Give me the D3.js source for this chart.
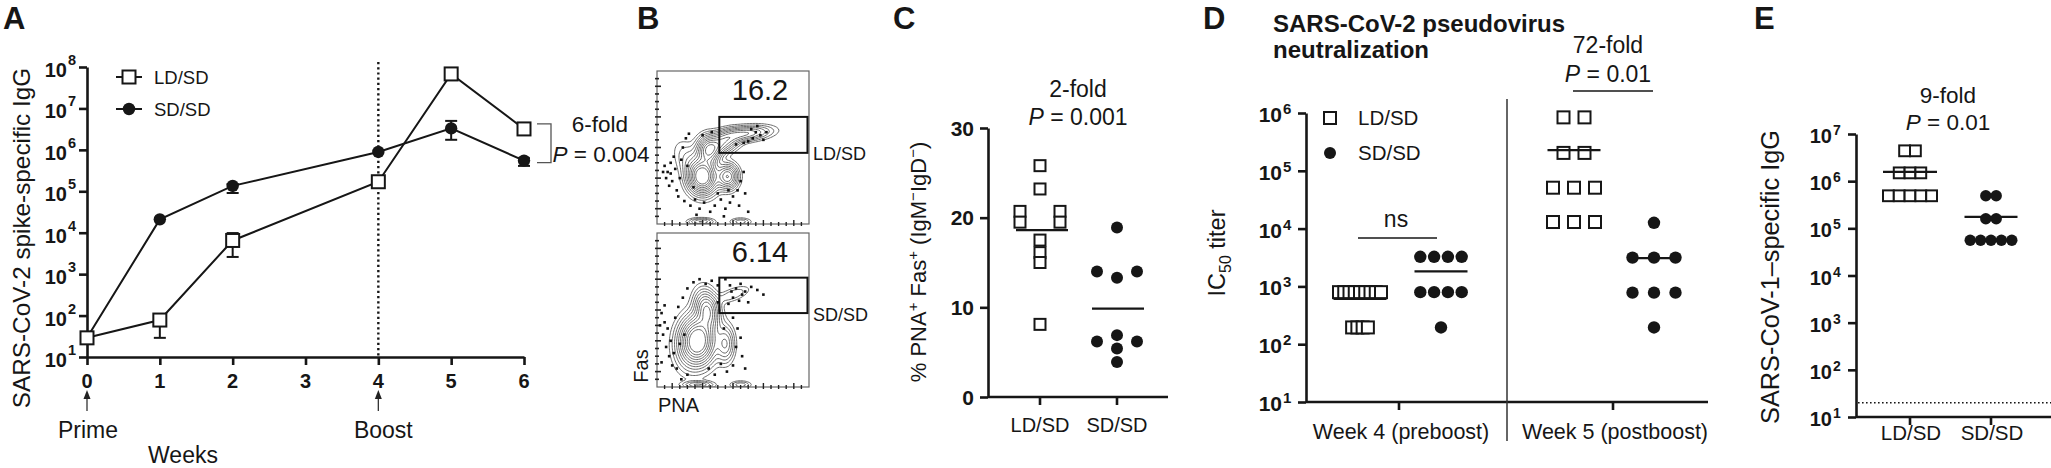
<!DOCTYPE html>
<html>
<head>
<meta charset="utf-8">
<script src="https://cdn.jsdelivr.net/npm/d3@7"></script>
<style>
html,body{margin:0;padding:0;background:#fff;}
svg{display:block;}
text{font-family:"Liberation Sans",Arial,Helvetica,sans-serif;fill:#161616;}
</style>
</head>
<body>
<svg id="fig" width="2051" height="468"></svg>
<script>
// ================= DATA =================
// Panel A : SARS-CoV-2 spike-specific IgG over weeks
const aWeeks  = [0, 1, 2, 4, 5, 6];
const aLD     = [29, 78, 6500, 170000, 6.8e7, 3.2e6];
const aLDlo   = [null, 29, 2600, null, null, null];
const aLDhi   = [null, 105, 9800, null, null, null];
const aSD     = [29, 21000, 135000, 890000, 3.3e6, 5.5e5];
const aSDlo   = [null, null, 91000, null, 1.75e6, 4.1e5];
const aSDhi   = [null, null, 150000, null, 5.0e6, 6.3e5];
const aXTicks = [0, 1, 2, 3, 4, 5, 6];
const aYExps  = [1, 2, 3, 4, 5, 6, 7, 8];
const aSeries = ["LD/SD", "SD/SD"];
const aBoost  = 4;

// Panel B : flow plots (normalised 0..1 plot coordinates)
const bValues = ["16.2", "6.14"];
const bRows   = ["LD/SD", "SD/SD"];
const bGates  = [[0.41, 0.30, 0.99, 0.535], [0.41, 0.29, 0.99, 0.52]];
// clusters: [cx, cy, sx, sy, angleDeg, weight]
const bClustersTop = [
  [0.30, 0.69, 0.055, 0.065, 0, 1.0],
  [0.34, 0.52, 0.045, 0.055, 0, 0.6],
  [0.465, 0.69, 0.04, 0.048, 0, 0.55],
  [0.43, 0.47, 0.07, 0.04, -22, 0.4],
  [0.58, 0.41, 0.10, 0.028, -6, 0.36],
  [0.22, 0.60, 0.05, 0.09, -30, 0.12],
  [0.29, 0.985, 0.05, 0.014, 0, 0.22],
  [0.55, 0.985, 0.04, 0.014, 0, 0.14]
];
const bClustersBot = [
  [0.27, 0.70, 0.065, 0.09, 0, 1.0],
  [0.33, 0.50, 0.045, 0.075, -12, 0.55],
  [0.45, 0.72, 0.035, 0.07, 0, 0.28],
  [0.50, 0.40, 0.07, 0.025, -20, 0.10],
  [0.20, 0.75, 0.06, 0.1, 0, 0.12],
  [0.27, 0.985, 0.06, 0.014, 0, 0.22],
  [0.55, 0.985, 0.04, 0.014, 0, 0.14]
];
const bDotsTop = [[.05,.62],[.07,.66],[.09,.60],[.06,.70],[.10,.72],[.12,.64],[.08,.75],[.13,.78],[.15,.70],[.11,.56],
  [.17,.50],[.19,.44],[.21,.41],[.16,.58],[.14,.82],[.18,.85],[.22,.88],[.25,.84],[.28,.90],[.31,.86],[.35,.92],[.38,.88],
  [.42,.84],[.45,.90],[.48,.86],[.50,.82],[.53,.78],[.55,.72],[.57,.66],[.54,.88],[.58,.80],[.60,.92],[.44,.95],[.26,.94],
  [.62,.38],[.65,.40],[.68,.42],[.70,.45],[.63,.44],[.60,.46],[.72,.40],[.66,.36],[.20,.62],[.24,.76],[.40,.80],[.47,.78],
  [.36,.40],[.30,.42],[.04,.66],[.09,.67],[.52,.48],[.57,.47]];
const bDotsBot = [[.03,.52],[.05,.58],[.04,.66],[.07,.62],[.06,.74],[.09,.70],[.08,.80],[.11,.78],[.10,.86],[.13,.88],
  [.03,.84],[.12,.55],[.14,.48],[.17,.42],[.20,.36],[.24,.32],[.28,.30],[.32,.33],[.36,.31],[.40,.34],[.45,.30],[.48,.34],
  [.52,.36],[.55,.33],[.58,.38],[.62,.35],[.66,.37],[.50,.42],[.54,.44],[.47,.46],[.60,.45],[.70,.40],[.50,.55],[.53,.62],
  [.55,.68],[.52,.74],[.56,.80],[.50,.86],[.46,.90],[.42,.85],[.38,.92],[.34,.88],[.20,.92],[.16,.95],[.58,.88],[.44,.62],
  [.40,.45],[.18,.66],[.15,.72],[.02,.60],[.05,.47],[.49,.38],[.56,.40]];
const bLevels = [0.03, 0.06, 0.1, 0.15, 0.21, 0.28, 0.36, 0.45, 0.55, 0.66, 0.78];
const bTickFracs = [0.05, 0.1, 0.15, 0.2, 0.25, 0.3, 0.35, 0.4, 0.45, 0.5, 0.55, 0.6, 0.65, 0.7, 0.75, 0.8, 0.85, 0.9, 0.95];

// Panel C : % PNA+ Fas+
const cGroups = ["LD/SD", "SD/SD"];
const cLD = [25.8, 23.2, 20.7, 20.7, 19.5, 19.5, 17.5, 16.1, 15.0, 8.1];
const cSD = [18.9, 14.0, 14.0, 13.3, 6.9, 6.2, 6.2, 5.4, 3.9];
const cYTicks = [0, 10, 20, 30];

// Panel D : IC50 titers
const dWeeks = ["Week 4 (preboost)", "Week 5 (postboost)"];
const dW4LD = [795, 795, 795, 795, 795, 795, 795, 795, 795, 195, 195, 195, 195];
const dW4SD = [3250, 3250, 3250, 3250, 795, 795, 795, 795, 195];
const dW5LD = [8.4e5, 8.4e5, 2.04e5, 2.04e5, 5.1e4, 5.1e4, 5.1e4, 1.3e4, 1.3e4, 1.3e4];
const dW5SD = [12600, 3150, 3150, 3150, 780, 780, 780, 195];
const dYExps = [1, 2, 3, 4, 5, 6];

// Panel E : SARS-CoV-1 specific IgG
const eGroups = ["LD/SD", "SD/SD"];
const eLD = [4.4e6, 4.4e6, 1.5e6, 1.5e6, 1.5e6, 4.9e5, 4.9e5, 4.9e5, 4.9e5, 4.9e5];
const eSD = [4.9e5, 4.9e5, 1.6e5, 1.6e5, 5.6e4, 5.6e4, 5.6e4, 5.6e4, 5.6e4];
const eLimit = 20;
const eYExps = [1, 2, 3, 4, 5, 6, 7];

// ================= HELPERS =================
const svg = d3.select("#fig");
const INK = "#161616";

function styleAxis(sel, w) {
  sel.select(".domain").attr("stroke", INK).attr("stroke-width", w);
  sel.selectAll(".tick line").attr("stroke", INK).attr("stroke-width", w);
  sel.selectAll(".tick text").remove();
}
function txt(g, x, y, s, size, opts = {}) {
  const t = g.append("text").attr("x", x).attr("y", y).attr("font-size", size).text(s);
  if (opts.anchor) t.attr("text-anchor", opts.anchor);
  if (opts.bold) t.attr("font-weight", "bold");
  return t;
}
function pTxt(g, x, y, rest, size) {
  const t = g.append("text").attr("x", x).attr("y", y).attr("font-size", size).attr("text-anchor", "middle");
  t.append("tspan").attr("font-style", "italic").text("P");
  t.append("tspan").text(rest);
  return t;
}
function powLabels(g, scale, exps, xRight, fs, es, dy, edy) {
  exps.forEach(e => {
    const y = scale(Math.pow(10, e));
    txt(g, xRight, y + dy, "10", fs, {anchor: "end", bold: true});
    txt(g, xRight + 1, y + edy, String(e), es, {bold: true});
  });
}
function square(g, cx, cy, s, sw) {
  g.append("rect").attr("x", cx - s / 2).attr("y", cy - s / 2).attr("width", s).attr("height", s)
    .attr("fill", "#fff").attr("stroke", INK).attr("stroke-width", sw);
}
function dot(g, cx, cy, r) {
  g.append("circle").attr("cx", cx).attr("cy", cy).attr("r", r).attr("fill", INK);
}
// rows of equal values are spread symmetrically
function rowOffsets(values, step) {
  const counts = new Map();
  values.forEach(v => counts.set(v, (counts.get(v) || 0) + 1));
  const seen = new Map();
  return values.map(v => {
    const n = counts.get(v), i = seen.get(v) || 0;
    seen.set(v, i + 1);
    return (i - (n - 1) / 2) * step;
  });
}
function rotLabel(g, cx, cy, size) {
  return g.append("text").attr("transform", `translate(${cx},${cy}) rotate(-90)`)
    .attr("text-anchor", "middle").attr("font-size", size);
}
function meanLine(g, cx, y, half) {
  g.append("line").attr("x1", cx - half).attr("x2", cx + half).attr("y1", y).attr("y2", y)
    .attr("stroke", INK).attr("stroke-width", 2.2);
}

// ================= PANEL A =================
(function () {
  const g = svg.append("g");
  const x = d3.scaleLinear().domain([0, 6]).range([87, 524]);
  const y = d3.scaleLog().domain([10, 1e8]).range([357, 67]);
  txt(g, 3, 29, "A", 31, {bold: true});
  g.append("g").attr("transform", "translate(87,0)")
    .call(d3.axisLeft(y).tickValues(aYExps.map(e => Math.pow(10, e))).tickSize(8).tickSizeOuter(0).tickFormat(""))
    .call(styleAxis, 2.6);
  g.append("g").attr("transform", "translate(0,357)")
    .call(d3.axisBottom(x).tickValues(aXTicks).tickSize(8).tickSizeOuter(0).tickFormat(""))
    .call(styleAxis, 2.6);
  powLabels(g, y, aYExps, 67, 20, 14.5, 10, -2);
  aXTicks.forEach(t => txt(g, x(t), 388, String(t), 20, {anchor: "middle", bold: true}));
  rotLabel(g, 30, 238, 24.3).text("SARS-CoV-2 spike-specific IgG");

  // boost dotted line
  g.append("line").attr("x1", x(aBoost)).attr("x2", x(aBoost)).attr("y1", 62).attr("y2", 357)
    .attr("stroke", INK).attr("stroke-width", 2.4).attr("stroke-dasharray", "2.2,3");

  // arrows + labels
  [[0, "Prime", 1], [aBoost, "Boost", 5]].forEach(([w, lab, dx]) => {
    g.append("line").attr("x1", x(w)).attr("x2", x(w)).attr("y1", 411).attr("y2", 397)
      .attr("stroke", "#333").attr("stroke-width", 1.3);
    g.append("path").attr("d", `M${x(w) - 3.5},399 L${x(w)},390 L${x(w) + 3.5},399 Z`).attr("fill", "#222");
    txt(g, x(w) + dx, 438, lab, 23, {anchor: "middle"});
  });
  txt(g, 183, 463, "Weeks", 23, {anchor: "middle"});

  const line = d3.line().x((d, i) => x(aWeeks[i])).y(d => y(d));
  g.append("path").attr("d", line(aSD)).attr("fill", "none").attr("stroke", INK).attr("stroke-width", 2);
  g.append("path").attr("d", line(aLD)).attr("fill", "none").attr("stroke", INK).attr("stroke-width", 2);

  function errs(lo, hi) {
    aWeeks.forEach((w, i) => {
      if (lo[i] == null) return;
      const cx = x(w);
      g.append("line").attr("x1", cx).attr("x2", cx).attr("y1", y(lo[i])).attr("y2", y(hi[i])).attr("stroke", INK).attr("stroke-width", 2);
      [lo[i], hi[i]].forEach(v => g.append("line").attr("x1", cx - 6).attr("x2", cx + 6).attr("y1", y(v)).attr("y2", y(v)).attr("stroke", INK).attr("stroke-width", 2));
    });
  }
  errs(aSDlo, aSDhi);
  errs(aLDlo, aLDhi);
  aSD.forEach((v, i) => dot(g, x(aWeeks[i]), y(v), 6.2));
  aLD.forEach((v, i) => square(g, x(aWeeks[i]), y(v), 13, 2));

  // legend
  [[aSeries[0], 77, "sq"], [aSeries[1], 109, "dot"]].forEach(([lab, ly, kind]) => {
    g.append("line").attr("x1", 116).attr("x2", 142).attr("y1", ly).attr("y2", ly).attr("stroke", INK).attr("stroke-width", 2);
    if (kind === "sq") square(g, 129, ly, 13, 2); else dot(g, 129, ly, 6.2);
    txt(g, 154, ly + 7, lab, 18.5);
  });

  // fold bracket at week 6
  const y1 = y(aLD[5]) - 5, y2 = y(aSD[5]) + 2;
  g.append("path").attr("d", `M537,${y1} H551 V${y2} H537`).attr("fill", "none").attr("stroke", "#555").attr("stroke-width", 1.3);
  txt(g, 600, 132, "6-fold", 22.5, {anchor: "middle"});
  pTxt(g, 601, 162, " = 0.004", 22.5);
})();

// ================= PANEL B =================
(function () {
  const g = svg.append("g");
  txt(g, 637, 29, "B", 31, {bold: true});
  const boxes = [{x: 657, y: 71, w: 152, h: 153}, {x: 657, y: 233, w: 152, h: 154}];
  const clusters = [bClustersTop, bClustersBot];
  const dots = [bDotsTop, bDotsBot];
  boxes.forEach((b, k) => {
    const p = g.append("g").attr("transform", `translate(${b.x},${b.y})`);
    const cid = "clipB" + k;
    svg.append("defs").append("clipPath").attr("id", cid).append("rect").attr("width", b.w).attr("height", b.h);
    const cell = 1.5, nx = Math.round(b.w / cell), ny = Math.round(b.h / cell);
    const vals = new Float64Array(nx * ny);
    for (let j = 0; j < ny; j++) for (let i = 0; i < nx; i++) {
      const fx = (i + 0.5) / nx, fy = (j + 0.5) / ny;
      let s = 0;
      for (const [cx, cy, sx, sy, ang, w] of clusters[k]) {
        const a = ang * Math.PI / 180, dx = fx - cx, dy = fy - cy;
        const u = dx * Math.cos(a) + dy * Math.sin(a), v = -dx * Math.sin(a) + dy * Math.cos(a);
        s += w * Math.exp(-0.5 * (u * u / (sx * sx) + v * v / (sy * sy)));
      }
      vals[j * nx + i] = s;
    }
    const cs = d3.contours().size([nx, ny]).thresholds(bLevels)(vals);
    const proj = d3.geoTransform({point: function (px, py) { this.stream.point(px * b.w / nx, py * b.h / ny); }});
    const path = d3.geoPath(proj);
    const inner = p.append("g").attr("clip-path", `url(#${cid})`);
    inner.selectAll("path").data(cs).join("path").attr("d", path)
      .attr("fill", "none").attr("stroke", "#5a5a5a").attr("stroke-width", 0.9);
    inner.selectAll("rect.d").data(dots[k]).join("rect").attr("class", "d")
      .attr("x", d => d[0] * b.w - 1.3).attr("y", d => d[1] * b.h - 1.3).attr("width", 2.6).attr("height", 2.6).attr("fill", "#111");
    // frame
    p.append("rect").attr("width", b.w).attr("height", b.h).attr("fill", "none").attr("stroke", "#666").attr("stroke-width", 1.2);
    // axis ticks
    bTickFracs.forEach((f, i) => {
      const len = i % 4 === 1 ? 5 : 3;
      p.append("line").attr("x1", -2).attr("x2", len - 1).attr("y1", f * b.h).attr("y2", f * b.h).attr("stroke", "#222").attr("stroke-width", 1.6);
      p.append("line").attr("y1", b.h + 2).attr("y2", b.h - len + 1).attr("x1", f * b.w).attr("x2", f * b.w).attr("stroke", "#222").attr("stroke-width", 1.4);
    });
    // gate
    const gt = bGates[k];
    p.append("rect").attr("x", gt[0] * b.w).attr("y", gt[1] * b.h).attr("width", (gt[2] - gt[0]) * b.w).attr("height", (gt[3] - gt[1]) * b.h)
      .attr("fill", "none").attr("stroke", "#111").attr("stroke-width", 2);
    txt(p, 103, 29, bValues[k], 29, {anchor: "middle"});
    txt(p, 156, (gt[3]) * b.h + 7.5, bRows[k], 18);
  });
  rotLabel(g, 648, 366, 20).text("Fas");
  txt(g, 658, 412, "PNA", 20);
})();

// ================= PANEL C =================
(function () {
  const g = svg.append("g");
  txt(g, 893, 29, "C", 31, {bold: true});
  const x = d3.scalePoint().domain(cGroups).range([1040, 1117]);
  const y = d3.scaleLinear().domain([0, 30]).range([397, 128]);
  g.append("g").attr("transform", "translate(988,0)")
    .call(d3.axisLeft(y).tickValues(cYTicks).tickSize(8).tickSizeOuter(0).tickFormat(""))
    .call(styleAxis, 2.6);
  g.append("line").attr("x1", 988).attr("x2", 1168).attr("y1", 397).attr("y2", 397).attr("stroke", INK).attr("stroke-width", 2.6);
  cGroups.forEach(c => g.append("line").attr("x1", x(c)).attr("x2", x(c)).attr("y1", 397).attr("y2", 405).attr("stroke", INK).attr("stroke-width", 2.6));
  cYTicks.forEach(t => txt(g, 974, y(t) + 7.5, String(t), 21, {anchor: "end", bold: true}));
  cGroups.forEach(c => txt(g, x(c), 432, c, 20, {anchor: "middle"}));
  const lab = rotLabel(g, 926, 262, 22);
  lab.append("tspan").text("% PNA");
  lab.append("tspan").attr("dy", -8).attr("font-size", 15).text("+");
  lab.append("tspan").attr("dy", 8).text(" Fas");
  lab.append("tspan").attr("dy", -8).attr("font-size", 15).text("+");
  lab.append("tspan").attr("dy", 8).text(" (IgM");
  lab.append("tspan").attr("dy", -8).attr("font-size", 15).text("\u2212");
  lab.append("tspan").attr("dy", 8).text("IgD");
  lab.append("tspan").attr("dy", -8).attr("font-size", 15).text("\u2212");
  lab.append("tspan").attr("dy", 8).text(")");

  const offL = rowOffsets(cLD, 40), offS = rowOffsets(cSD, 40);
  cLD.forEach((v, i) => square(g, x(cGroups[0]) + offL[i], y(v), 11, 2));
  cSD.forEach((v, i) => dot(g, x(cGroups[1]) + offS[i], y(v), 6));
  meanLine(g, x(cGroups[0]) + 2, y(d3.mean(cLD)), 26);
  meanLine(g, x(cGroups[1]) + 1, y(d3.mean(cSD)), 26);
  txt(g, 1078, 97, "2-fold", 23, {anchor: "middle"});
  pTxt(g, 1078, 125, " = 0.001", 23);
})();

// ================= PANEL D =================
(function () {
  const g = svg.append("g");
  txt(g, 1203, 29, "D", 31, {bold: true});
  txt(g, 1273, 32, "SARS-CoV-2 pseudovirus", 24, {bold: true});
  txt(g, 1273, 58, "neutralization", 24, {bold: true});
  const x = d3.scalePoint().domain(dWeeks).range([1399, 1613]);
  const y = d3.scaleLog().domain([10, 1e6]).range([402, 113]);
  g.append("g").attr("transform", "translate(1306,0)")
    .call(d3.axisLeft(y).tickValues(dYExps.map(e => Math.pow(10, e))).tickSize(8).tickSizeOuter(0).tickFormat(""))
    .call(styleAxis, 2.6);
  g.append("line").attr("x1", 1306).attr("x2", 1708).attr("y1", 402).attr("y2", 402).attr("stroke", INK).attr("stroke-width", 2.6);
  dWeeks.forEach(w => {
    g.append("line").attr("x1", x(w)).attr("x2", x(w)).attr("y1", 402).attr("y2", 410).attr("stroke", INK).attr("stroke-width", 2.6);
    txt(g, x(w) + 2, 439, w, 21.5, {anchor: "middle"});
  });
  g.append("line").attr("x1", 1507).attr("x2", 1507).attr("y1", 99).attr("y2", 441).attr("stroke", "#333").attr("stroke-width", 1.5);
  powLabels(g, y, dYExps, 1282, 21, 15, 9, 1);
  const lab = rotLabel(g, 1225, 253, 23.5);
  lab.append("tspan").text("IC");
  lab.append("tspan").attr("dy", 6).attr("font-size", 16).text("50");
  lab.append("tspan").attr("dy", -6).text(" titer");

  // legend
  square(g, 1330, 118, 12, 2); txt(g, 1358, 125, "LD/SD", 20.5);
  dot(g, 1330, 153, 6); txt(g, 1358, 160, "SD/SD", 20.5);

  const sets = [
    [dW4LD, x(dWeeks[0]) - 39, 5.25, "sq"],
    [dW4SD, x(dWeeks[0]) + 42, 13.8, "dot"],
    [dW5LD, x(dWeeks[1]) - 39, 21, "sq"],
    [dW5SD, x(dWeeks[1]) + 41, 21.5, "dot"]
  ];
  sets.forEach(([vals, cx, step, kind]) => {
    const off = rowOffsets(vals, step);
    vals.forEach((v, i) => kind === "sq" ? square(g, cx + off[i], y(v), 12, 2) : dot(g, cx + off[i], y(v), 6.2));
  });
  sets.forEach(([vals, cx]) => meanLine(g, cx, y(d3.mean(vals)), 26.5));

  txt(g, 1396, 227, "ns", 23, {anchor: "middle"});
  g.append("line").attr("x1", 1358).attr("x2", 1437).attr("y1", 238).attr("y2", 238).attr("stroke", INK).attr("stroke-width", 1.6);
  txt(g, 1608, 53, "72-fold", 23, {anchor: "middle"});
  pTxt(g, 1608, 82, " = 0.01", 23);
  g.append("line").attr("x1", 1573).attr("x2", 1653).attr("y1", 91).attr("y2", 91).attr("stroke", INK).attr("stroke-width", 1.6);
})();

// ================= PANEL E =================
(function () {
  const g = svg.append("g");
  txt(g, 1754, 29, "E", 31, {bold: true});
  const x = d3.scalePoint().domain(eGroups).range([1910, 1991]);
  const y = d3.scaleLog().domain([10, 1e7]).range([417, 134]);
  g.append("g").attr("transform", "translate(1856,0)")
    .call(d3.axisLeft(y).tickValues(eYExps.map(e => Math.pow(10, e))).tickSize(8).tickSizeOuter(0).tickFormat(""))
    .call(styleAxis, 2.6);
  g.append("line").attr("x1", 1856).attr("x2", 2051).attr("y1", 417).attr("y2", 417).attr("stroke", INK).attr("stroke-width", 2.6);
  eGroups.forEach(c => {
    g.append("line").attr("x1", x(c)).attr("x2", x(c)).attr("y1", 417).attr("y2", 425).attr("stroke", INK).attr("stroke-width", 2.6);
    txt(g, x(c) + 1, 440, c, 20.5, {anchor: "middle"});
  });
  powLabels(g, y, eYExps, 1832, 20, 14, 9, 1);
  g.append("line").attr("x1", 1858).attr("x2", 2051).attr("y1", y(eLimit)).attr("y2", y(eLimit))
    .attr("stroke", INK).attr("stroke-width", 1.6).attr("stroke-dasharray", "1.6,2.4");
  rotLabel(g, 1779, 277, 25.3).text("SARS-CoV-1\u2013specific IgG");

  const offL = rowOffsets(eLD, 10.8), offS = rowOffsets(eSD, 10.4);
  eLD.forEach((v, i) => square(g, x(eGroups[0]) + offL[i], y(v), 10.8, 2));
  eSD.forEach((v, i) => dot(g, x(eGroups[1]) + offS[i], y(v), 5.7));
  meanLine(g, x(eGroups[0]), y(d3.mean(eLD)), 27);
  meanLine(g, x(eGroups[1]), y(d3.mean(eSD)), 26.5);
  txt(g, 1948, 103, "9-fold", 22.5, {anchor: "middle"});
  pTxt(g, 1948, 130, " = 0.01", 22.5);
})();
</script>
</body>
</html>
